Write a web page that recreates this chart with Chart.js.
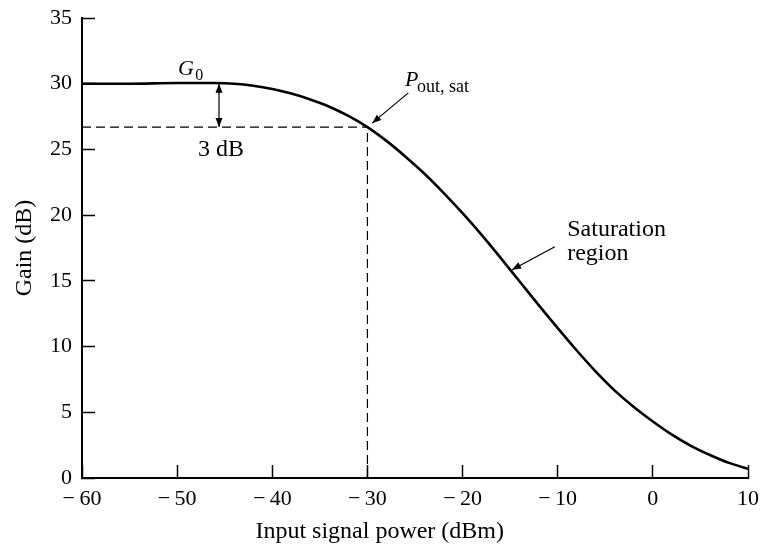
<!DOCTYPE html>
<html><head><meta charset="utf-8">
<script src="https://cdn.jsdelivr.net/npm/chart.js@4.4.1/dist/chart.umd.min.js"></script>
<style>html,body{margin:0;padding:0;background:#fff}canvas{display:block}</style>
</head><body>
<canvas id="c" width="766" height="545"></canvas>
<script>
// ---- data ----
const inputPower = [-60,-55,-50,-46,-44,-42,-40,-38,-36,-34,-32,-30,-28,-26,-24,-22,-20,-18,-16,-14,-12,-10,-8,-6,-4,-2,0,2,4,6,8,10];
const gain       = [30.0,30.0,30.05,30.05,30.0,29.85,29.6,29.25,28.8,28.25,27.55,26.7,25.65,24.45,23.15,21.7,20.15,18.5,16.75,14.95,13.15,11.4,9.7,8.1,6.65,5.4,4.3,3.3,2.45,1.75,1.15,0.7];
const satPower = -30;       // Pout,sat input power (dBm)
const satGain = 26.7;       // gain at Pout,sat (dB)
const g0 = 30;              // small-signal gain
const xTickValues = [-60,-50,-40,-30,-20,-10,0,10];
const xTickLabels = ['\u2212\u200960','\u2212\u200950','\u2212\u200940','\u2212\u200930','\u2212\u200920','\u2212\u200910','0','10'];
const yTickValues = [0,5,10,15,20,25,30,35];
const yTickLabels = ['0','5','10','15','20','25','30','35'];

const SERIF = '"Liberation Serif", "Times New Roman", serif';
Chart.defaults.font.family = SERIF;
Chart.defaults.color = '#000';

const annot = {
  id: 'annot',
  afterDatasetsDraw(chart) {
    const {ctx, scales: {x, y}} = chart;
    const X = v => x.getPixelForValue(v), Y = v => y.getPixelForValue(v);
    ctx.save();
    ctx.fillStyle = '#000'; ctx.strokeStyle = '#000';
    function head(x1, y1, x2, y2, len, hw) {
      const a = Math.atan2(y2 - y1, x2 - x1);
      ctx.beginPath();
      ctx.moveTo(x2, y2);
      ctx.lineTo(x2 - len * Math.cos(a) + hw * Math.sin(a), y2 - len * Math.sin(a) - hw * Math.cos(a));
      ctx.lineTo(x2 - len * Math.cos(a) - hw * Math.sin(a), y2 - len * Math.sin(a) + hw * Math.cos(a));
      ctx.closePath(); ctx.fill();
    }
    function arrow(x1, y1, x2, y2, both) {
      ctx.lineWidth = 1.2;
      ctx.beginPath(); ctx.moveTo(x1, y1); ctx.lineTo(x2, y2); ctx.stroke();
      head(x1, y1, x2, y2, 9, 3.5);
      if (both) head(x2, y2, x1, y1, 9, 3.5);
    }
    // 3 dB double arrow
    arrow(X(-45.6), Y(g0), X(-45.6), Y(satGain), true);
    // Pout,sat arrow
    arrow(X(-25.7), Y(29.3), X(-29.5), Y(27.0), false);
    // saturation arrow
    arrow(X(-10.3), Y(17.6), X(-14.8), Y(15.85), false);

    ctx.textBaseline = 'alphabetic';
    ctx.textAlign = 'left';
    ctx.font = 'italic 22px ' + SERIF;
    ctx.fillText('G', X(-49.9), Y(30.66));
    ctx.font = '16px ' + SERIF;
    ctx.fillText('0', X(-48.1), Y(30.28));
    ctx.font = 'italic 22px ' + SERIF;
    ctx.fillText('P', X(-26.05), Y(29.8));
    ctx.font = '18px ' + SERIF;
    ctx.fillText('out, sat', X(-24.8), Y(29.37));
    ctx.font = '24px ' + SERIF;
    ctx.fillText('Saturation', X(-9.0), Y(18.4));
    ctx.fillText('region', X(-9.0), Y(16.6));
    ctx.textAlign = 'center';
    ctx.fillText('3 dB', X(-45.4), Y(24.5));
    // x-axis title
    ctx.fillText('Input signal power (dBm)', x.left + (x.right - x.left) * 0.447, chart.height - 7);
    ctx.restore();
  }
};

new Chart(document.getElementById('c'), {
  type: 'line',
  data: {
    datasets: [
      { data: inputPower.map((v, i) => ({x: v, y: gain[i]})), borderColor: '#000', borderWidth: 2.6,
        pointRadius: 0, cubicInterpolationMode: 'monotone', fill: false },
      { data: [{x: -60, y: satGain}, {x: satPower, y: satGain}], borderColor: '#000', borderWidth: 1.2,
        borderDash: [9, 5], pointRadius: 0, fill: false },
      { data: [{x: satPower, y: 0}, {x: satPower, y: satGain}], borderColor: '#000', borderWidth: 1.2,
        borderDash: [9, 5], pointRadius: 0, fill: false }
    ]
  },
  options: {
    responsive: false, animation: false, devicePixelRatio: 1,
    layout: { padding: { top: 18, right: 18, left: 0, bottom: 0 } },
    plugins: { legend: { display: false }, tooltip: { enabled: false } },
    scales: {
      x: {
        type: 'linear', min: -60, max: 10,
        afterBuildTicks: s => { s.ticks = xTickValues.map(v => ({value: v})); },
        afterFit: s => { s.height = 67; s.paddingLeft = 10; s.paddingRight = 10; },
        grid: { drawOnChartArea: false, drawTicks: true, tickLength: -13, tickColor: '#000', tickWidth: 1.5 },
        border: { display: true, color: '#000', width: 2 },
        ticks: { autoSkip: false, maxRotation: 0, padding: 21, font: { size: 22 }, color: '#000',
          callback: v => xTickLabels[xTickValues.indexOf(v)] }
      },
      y: {
        type: 'linear', min: 0, max: 35,
        afterBuildTicks: s => { s.ticks = yTickValues.map(v => ({value: v})); },
        afterFit: s => { s.width = 82; s.paddingTop = 10; s.paddingBottom = 10; },
        grid: { drawOnChartArea: false, drawTicks: true, tickLength: -13, tickColor: '#000', tickWidth: 1.5 },
        border: { display: true, color: '#000', width: 2 },
        ticks: { autoSkip: false, padding: 23, font: { size: 22 }, color: '#000',
          callback: v => yTickLabels[yTickValues.indexOf(v)] },
        title: { display: true, text: 'Gain (dB)', font: { size: 24 }, color: '#000', padding: { top: 10 } }
      }
    }
  },
  plugins: [annot]
});
</script>
</body></html>
